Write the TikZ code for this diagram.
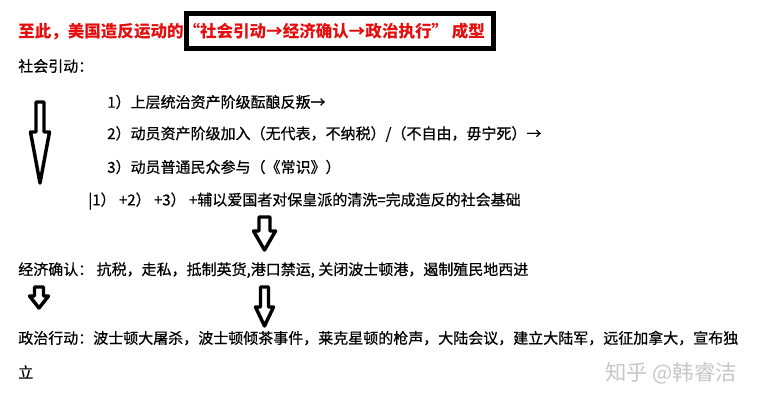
\documentclass[tikz,border=0pt]{standalone}
\usepackage{fontspec}
\setmainfont{Noto Sans CJK SC}
\newfontfamily\bodyfont{Noto Sans CJK SC}[FakeBold=0.6]
\usetikzlibrary{positioning}

\definecolor{titlered}{RGB}{228,14,14}

% hollow block arrow: centre x, half shaft, half head, top, head start, tip
\newcommand\flowarrow[6]{%
  \draw[blockarrow] (#1-#2,#4) -- (#1+#2,#4) -- (#1+#2,#5) -- (#1+#3,#5)
    -- (#1,#6) -- (#1-#3,#5) -- (#1-#2,#5) -- cycle;}

\begin{document}
\begin{tikzpicture}[
    x=0.75pt, y=-0.75pt,
    txt/.style={anchor=west, inner sep=0pt, font=\fontsize{11.25}{13}\bodyfont},
    headline/.style={anchor=west, inner sep=0pt, text=titlered, font=\fontsize{12.4}{15}\selectfont\bfseries},
    framebox/.style={draw, line width=3.6pt, minimum width=230pt, minimum height=26pt, inner sep=0pt},
    blockarrow/.style={draw, fill=white, line width=2.6pt, line join=round},
    wmark/.style={anchor=west, inner sep=0pt, text=black!22, font=\fontsize{16}{18}\selectfont}
  ]
  \useasboundingbox[fill=white] (0,0) rectangle (763,403);

  % headline with the framed chain
  \node[framebox] (chain_box) at (340,31) {};
  \node[headline] (title) at (18,32) {至此，美国造反运动的“社会引动→经济确认→政治执行” 成型};

  % social stage
  \node[txt] (social_head) at (18,66) {社会引动：};
  \node[txt] (item_one) at (107,102) {1）上层统治资产阶级酝酿反叛→};
  \node[txt] (item_two) at (107,134) {2）动员资产阶级加入（无代表，不纳税）/（不自由，毋宁死）→};
  \node[txt] (item_three) at (107,167) {3）动员普通民众参与（《常识》）};
  \node[txt] (social_sum) at (88,201) {|1） +2） +3） +辅以爱国者对保皇派的清洗=完成造反的社会基础};

  % economic stage
  \node[txt] (econ_line) at (18,270) {经济确认： 抗税，走私，抵制英货,港口禁运, 关闭波士顿港，遏制殖民地西进};

  % political stage
  \node[txt] (pol_line) at (18,338) {政治行动：波士顿大屠杀，波士顿倾茶事件，莱克星顿的枪声，大陆会议，建立大陆军，远征加拿大，宣布独};
  \node[txt] (pol_rest) at (18,372) {立};

  \node[wmark] (watermark) at (605,373) {知乎 @韩睿洁};

  % arrows
  \flowarrow{40}{4}{9.5}{102}{132}{183}
  \flowarrow{264.5}{5.5}{11}{217}{231}{250}
  \flowarrow{39}{4.5}{9.5}{287}{296}{308}
  \flowarrow{264.5}{4}{9}{287}{307}{326}

\end{tikzpicture}
\end{document}
